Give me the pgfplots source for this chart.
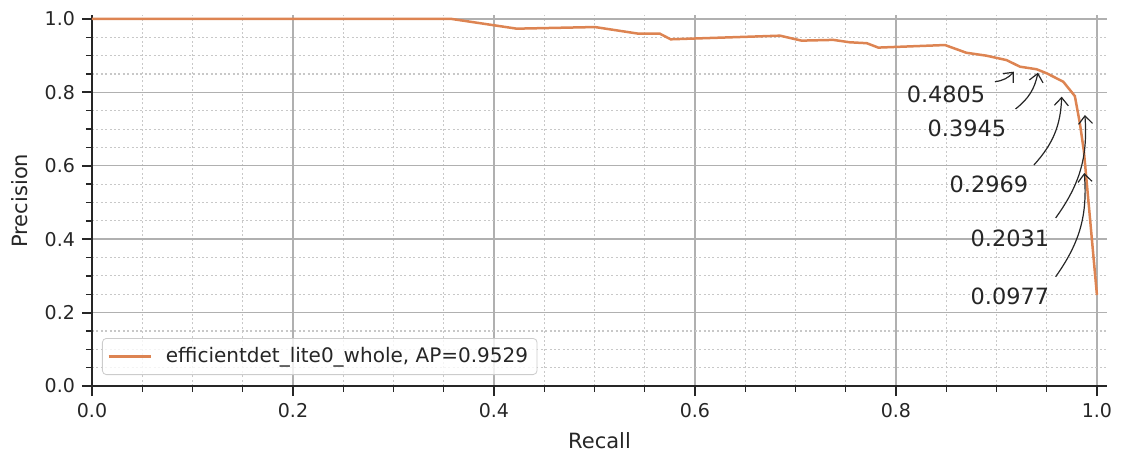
\documentclass[border=0pt]{standalone}
\usepackage{fontspec}
\setmainfont{DejaVu Sans}
\usepackage{pgfplots}
\pgfplotsset{compat=1.18}
\usetikzlibrary{arrows.meta}
\definecolor{curve}{HTML}{DD8452}
\definecolor{txt}{HTML}{262626}
\definecolor{majgrid}{HTML}{B0B0B0}
\definecolor{mingrid}{HTML}{C8C8C8}
\definecolor{legframe}{HTML}{CCCCCC}
\begin{document}
\begin{tikzpicture}
\begin{axis}[
  scale only axis,
  width=507.5pt, height=185.35pt,
  xmin=0, xmax=1.01, ymin=0, ymax=1.01,
  axis x line*=bottom, axis y line*=left,
  axis line style={-, line width=1pt, color=txt},
  xtick={0,0.2,0.4,0.6,0.8,1}, ytick={0,0.2,0.4,0.6,0.8,1},
  minor tick num=3,
  tick align=outside,
  major tick length=5pt, minor tick length=3pt,
  major tick style={line width=1pt, color=txt},
  minor tick style={line width=0.7pt, color=txt},
  grid=both,
  major grid style={color=majgrid, line width=0.7pt, solid},
  minor grid style={color=mingrid, line width=0.55pt, dash pattern=on 1pt off 1.2pt},
  /pgf/number format/assume math mode=true,
  xticklabel style={/pgf/number format/.cd, fixed, fixed zerofill, precision=1},
  yticklabel style={/pgf/number format/.cd, fixed, fixed zerofill, precision=1},
  tick label style={font=\fontsize{9.5}{11}\selectfont, text=txt},
  xlabel={Recall}, ylabel={Precision},
  label style={font=\fontsize{10.5}{12}\selectfont, text=txt},
  xlabel style={at={([yshift=-27.5pt]axis description cs:0.5,0)}, anchor=center},
  ylabel style={at={([xshift=-36pt]axis description cs:0,0.5)}, anchor=center},
  legend style={at={([xshift=5pt,yshift=5.5pt]axis description cs:0,0)}, anchor=south west,
    draw=legframe, rounded corners=2pt, fill=white, fill opacity=0.8, text opacity=1,
    font=\fontsize{10}{12}\selectfont, text=txt, inner xsep=2.5pt, inner ysep=2.5pt},
  legend image code/.code={\draw[#1] (0pt,0pt) -- (21pt,0pt); \path (26pt,0pt);},
  legend cell align=left,
  clip=false,
]
\addplot[curve, line width=1.25pt] coordinates {
(0,1.0) (0.358,1.0) (0.4226,0.9736) (0.5005,0.978) (0.5436,0.960) (0.565,0.960)
(0.5758,0.9446) (0.6846,0.9545) (0.706,0.941) (0.7377,0.943) (0.754,0.9365)
(0.771,0.934) (0.7824,0.922) (0.8488,0.929) (0.870,0.908) (0.890,0.900)
(0.910,0.888) (0.9234,0.870) (0.940,0.863) (0.950,0.852) (0.9665,0.829)
(0.978,0.790) (0.983,0.716) (0.987,0.64) (1.0,0.248)
};
\addlegendentry{efficientdet\_lite0\_whole, AP=0.9529}
\tikzset{ann/.style={font=\fontsize{11.2}{13}\selectfont, text=txt},
  arr/.style={-{Straight Barb[length=4pt,width=7pt]}, line width=0.6pt, draw=txt}}
\node[ann] at (axis cs:0.8498,0.7956) {0.4805};
\draw[arr] (axis cs:0.8985,0.829) to[bend right=20] (axis cs:0.9174,0.8564);
\node[ann] at (axis cs:0.8706,0.703) {0.3945};
\draw[arr] (axis cs:0.919,0.7548) to[bend right=20] (axis cs:0.9413,0.8537);
\node[ann] at (axis cs:0.8925,0.5504) {0.2969};
\draw[arr] (axis cs:0.9373,0.6022) to[bend right=20] (axis cs:0.9649,0.7883);
\node[ann] at (axis cs:0.9134,0.4033) {0.2031};
\draw[arr] (axis cs:0.9589,0.4578) to[bend right=20] (axis cs:0.988,0.7384);
\node[ann] at (axis cs:0.9134,0.2452) {0.0977};
\draw[arr] (axis cs:0.9589,0.2978) to[bend right=20] (axis cs:0.9874,0.5804);
\end{axis}
\pgfresetboundingbox
\path[use as bounding box] (-46pt,-35.5pt) rectangle (514.5pt,193pt);
\end{tikzpicture}
\end{document}
